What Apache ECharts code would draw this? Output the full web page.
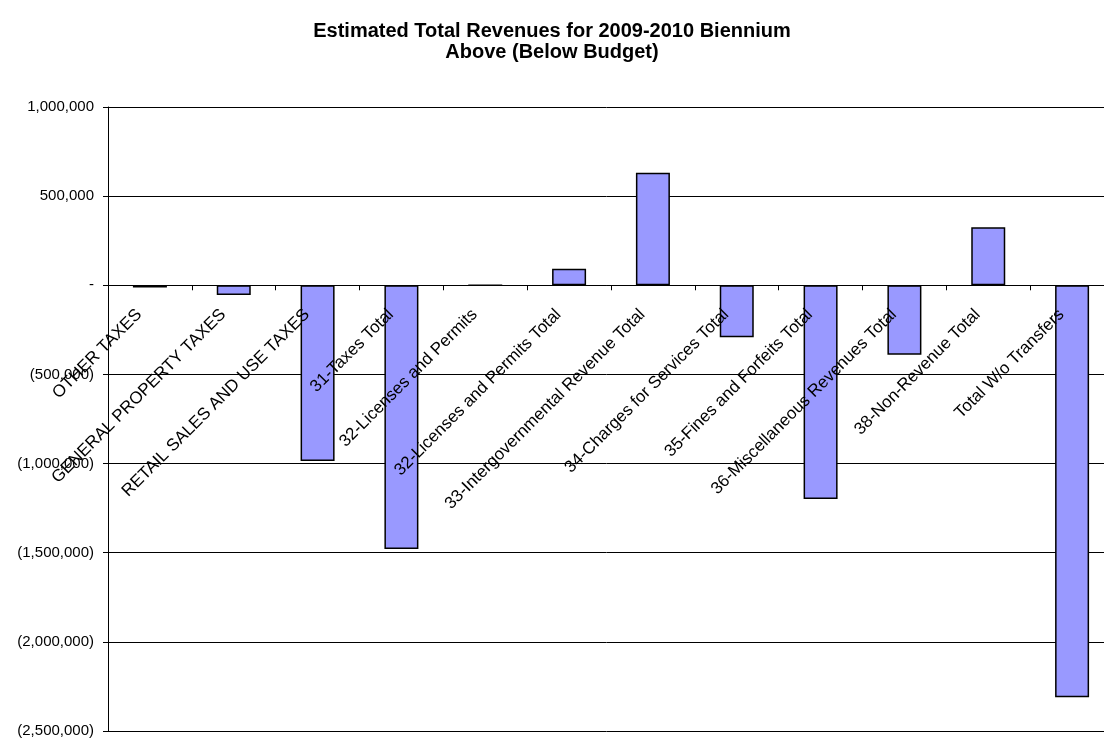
<!DOCTYPE html>
<html>
<head>
<meta charset="utf-8">
<script src="https://cdn.jsdelivr.net/npm/echarts@6/dist/echarts.min.js"></script>
<style>
  html, body { margin: 0; padding: 0; background: #fff; }
  #chart { width: 1104px; height: 742px; }
</style>
</head>
<body>
<div id="chart"></div>
<script>
// Revenue categories along the x axis
const categories = [
  'OTHER TAXES',
  'GENERAL PROPERTY TAXES',
  'RETAIL SALES AND USE TAXES',
  '31-Taxes Total',
  '32-Licenses and Permits',
  '32-Licenses and Permits Total',
  '33-Intergovernmental Revenue Total',
  '34-Charges for Services Total',
  '35-Fines and Forfeits Total',
  '36-Miscellaneous Revenues Total',
  '38-Non-Revenue Total',
  'Total W/o Transfers'
];

// Amount above (below) budget for each category
const varianceValues = [
  -12000, -54000, -985000, -1479000, 0, 93000,
  631000, -291000, -1199000, -389000, 325000, -2310000
];

// Value axis range and step
const axisMin = -2500000;
const axisMax = 1000000;
const axisStep = 500000;

const titleLines = [
  'Estimated Total Revenues for 2009-2010 Biennium',
  'Above (Below Budget)'
];

function formatAccounting(v) {
  if (v === 0) return '-';
  const s = Math.abs(v).toLocaleString('en-US');
  return v < 0 ? '(' + s + ')' : s;
}

const CHART_W = 1104, CHART_H = 742;
const GRID = { left: 108, top: 107, right: -10, bottom: 11 };

// The category axis sits on the zero line, labels included:
// shift the whole axis up from the grid bottom to where zero falls.
const plotHeight = CHART_H - GRID.top - GRID.bottom;
const zeroFromBottom = plotHeight * (0 - axisMin) / (axisMax - axisMin);

const chart = echarts.init(document.getElementById('chart'), null, { renderer: 'canvas' });
const FONT = '"Liberation Sans", Arial, sans-serif';

chart.setOption({
  animation: false,
  backgroundColor: '#fff',
  title: {
    text: titleLines.join('\n'),
    left: 'center',
    top: 16,
    textStyle: {
      fontFamily: FONT,
      fontSize: 20,
      fontWeight: 'bold',
      color: '#000',
      lineHeight: 21
    }
  },
  grid: Object.assign({ containLabel: false, outerBoundsMode: 'none' }, GRID),
  xAxis: {
    type: 'category',
    data: categories,
    z: 5,
    offset: -zeroFromBottom,
    axisLine: { onZero: false, lineStyle: { color: '#000', width: 1 } },
    axisTick: { show: true, interval: 0, length: 5, lineStyle: { color: '#000' } },
    axisLabel: {
      interval: 0,
      rotate: 45,
      margin: 16,
      padding: [0, 15, 0, 0],
      fontFamily: FONT,
      fontSize: 17,
      color: '#000'
    },
    splitLine: { show: false }
  },
  yAxis: {
    type: 'value',
    min: axisMin,
    max: axisMax,
    interval: axisStep,
    axisLine: { show: true, lineStyle: { color: '#000', width: 1 } },
    axisTick: { show: true, length: 5, lineStyle: { color: '#000' } },
    axisLabel: {
      formatter: formatAccounting,
      margin: 14,
      fontFamily: FONT,
      fontSize: 15,
      color: '#000'
    },
    splitLine: { show: true, lineStyle: { color: '#000', width: 1 } }
  },
  series: [{
    type: 'bar',
    data: varianceValues,
    barWidth: 34,
    itemStyle: { color: '#9999FF', borderColor: '#000', borderWidth: 1.5 }
  }]
});
</script>
</body>
</html>
